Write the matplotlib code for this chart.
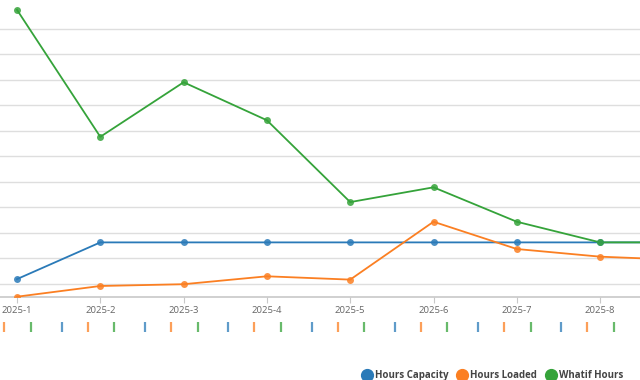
import numpy as np
import matplotlib.pyplot as plt
from matplotlib.lines import Line2D

months = ['2025-1', '2025-2', '2025-3', '2025-4', '2025-5', '2025-6', '2025-7', '2025-8', '2025-9']
hours_capacity = [6.9, 21.3, 21.3, 21.3, 21.3, 21.3, 21.3, 21.3, 21.3]
hours_loaded = [0.0, 4.2, 4.9, 8.0, 6.7, 29.4, 18.7, 15.7, 14.4]
whatif_hours = [112.5, 62.7, 84.1, 69.2, 37.1, 42.9, 29.4, 21.3, 21.3]

BLUE = '#2a7ab8'
ORANGE = '#fb7f22'
GREEN = '#35a33a'

plt.rcParams['font.family'] = ['Open Sans', 'DejaVu Sans']

fig = plt.figure(figsize=(6.4, 3.8), dpi=100)

# main plot area (chart is scrolled, so y labels are off to the left)
ax = fig.add_axes([0, (380 - 296.7) / 380, 1, (296.7 - 5) / 380])
x = np.arange(len(months))

ax.set_yticks(np.arange(5, 110, 10))
ax.yaxis.grid(True, color='#dedede', linewidth=1)
ax.tick_params(axis='y', length=0, labelleft=False)
ax.set_axisbelow(True)

for s in ['top', 'right', 'left']:
    ax.spines[s].set_visible(False)
ax.spines['bottom'].set_color('#c8c8c8')
ax.spines['bottom'].set_linewidth(1.2)

ax.set_xticks(x)
ax.set_xticklabels(months)
ax.tick_params(axis='x', length=4, color='#c8c8c8', labelsize=6.8,
               labelcolor='#666666', pad=3)

series = [
    ('Hours Capacity', hours_capacity, BLUE),
    ('Hours Loaded', hours_loaded, ORANGE),
    ('Whatif Hours', whatif_hours, GREEN),
]
for name, vals, col in series:
    ax.plot(x, vals, color=col, linewidth=1.3, zorder=3)
    ax.plot(x, vals, 'o', color=col, markersize=5, alpha=0.85, zorder=4,
            markeredgewidth=0)

# limits last, set_xticks would widen them
xlim = (-17 / 83.3, 623 / 83.3)
ax.set_xlim(xlim)
ax.set_ylim(0, 114.4)

# strip of small markers under the axis
ax2 = fig.add_axes([0, (380 - 336) / 380, 1, 18 / 380])
ax2.axis('off')
offsets = [(-0.152, ORANGE), (0.168, GREEN), (0.536, BLUE)]
for off, col in offsets:
    ax2.plot(x + off, np.full(len(x), 0.5), '|', color=col, markersize=7.5,
             markeredgewidth=1.6, alpha=0.75)
ax2.set_xlim(xlim)
ax2.set_ylim(0, 1)

# legend
handles = [Line2D([], [], marker='o', linestyle='', color=col, markersize=8.5)
           for _, _, col in series]
labels = [name for name, _, _ in series]
fig.legend(handles, labels, loc='center right', bbox_to_anchor=(623 / 640, 1 - 375.5 / 380),
           ncol=3, frameon=False, handletextpad=0.4, columnspacing=1.05,
           handlelength=0.8, borderpad=0, borderaxespad=0,
           prop={'weight': 'bold', 'size': 7}, labelcolor='#444444')

fig.savefig('out.png', dpi=100)
